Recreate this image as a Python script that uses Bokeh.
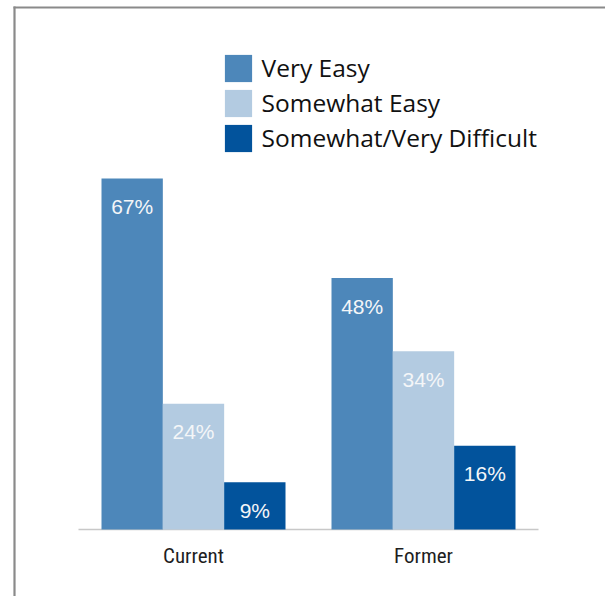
from bokeh.plotting import figure
from bokeh.models import ColumnDataSource, Range1d, Legend, LegendItem
from bokeh.core.properties import value
from bokeh.transform import dodge
from bokeh.embed import file_html
from bokeh.resources import INLINE

# ---- data ----
categories = ["Current", "Former"]
series = ["Very Easy", "Somewhat Easy", "Somewhat/Very Difficult"]
very_easy = [67, 48]
somewhat_easy = [24, 34]
difficult = [9, 16]
colors = ["#4d87ba", "#b3cbe1", "#02539c"]

values = [very_easy, somewhat_easy, difficult]

W, H = 605, 596
XU = 230.0    # px per category
YU = 5.239    # px per percent
x0px, y0px = 78, 529
xr = Range1d(-x0px / XU, (W - x0px) / XU)
yr = Range1d(-(H - y0px) / YU, y0px / YU)

p = figure(width=W, height=H, output_backend="svg", toolbar_location=None,
           x_range=xr, y_range=yr,
           min_border=0, x_axis_location=None, y_axis_location=None)
p.min_border_left = 0
p.min_border_right = 0
p.min_border_top = 0
p.min_border_bottom = 0
p.grid.visible = False
p.outline_line_color = None
p.background_fill_color = "white"
p.border_fill_color = "white"


def xd(px):
    return xr.start + px / XU


def yd(py):
    return yr.end - py / YU


# frame border (left + top), decoration only
p.segment(x0=[xd(13), xd(14)], x1=[xd(W + 5), xd(14)],
          y0=[yd(7), yd(6)], y1=[yd(7), yd(H + 5)],
          line_color="#8a8a8a", line_width=2.2)

xc = [i + 0.5 for i in range(len(categories))]
bw = 0.8 / 3
offsets = [-bw, 0.0, bw]

# baseline
p.segment(x0=[0], x1=[len(categories)], y0=[0], y1=[0], line_color="#c8c8c8", line_width=1.5)

items = []
for name, vals, col, off in zip(series, values, colors, offsets):
    src = ColumnDataSource(dict(x=xc, top=vals, lab=[f"{v}%" for v in vals]))
    r = p.vbar(x=dodge("x", off, range=p.x_range), top="top", width=bw, bottom=0,
               source=src, fill_color=col, line_color=None)
    p.text(x=dodge("x", off, range=p.x_range), y="top", text="lab", source=src,
           text_align="center", text_baseline="middle", y_offset=28,
           text_color="#f4f6f8", text_font=value("Liberation Sans"),
           text_font_size="21px")
    items.append(LegendItem(label=name, renderers=[r]))

# category labels
csrc = ColumnDataSource(dict(x=xc, y=[0] * len(categories), t=categories))
p.text(x="x", y="y", text="t", source=csrc, text_align="center",
       text_baseline="middle", y_offset=26, text_color="#1e1e1e",
       text_font=value("Liberation Sans Narrow, Roboto Condensed, Arial Narrow, sans-serif"),
       text_font_size="21px")

G = 34
legend = Legend(items=items, location=(220.6, H - 154.6), orientation="vertical",
                glyph_width=G, glyph_height=G, spacing=1, padding=0, margin=0,
                label_standoff=7, label_text_font="Open Sans",
                label_text_font_size="24.5px", label_text_color="#111111",
                border_line_color=None, background_fill_alpha=0)
p.add_layout(legend, "center")

open("out.html", "w").write(file_html(p, INLINE))
